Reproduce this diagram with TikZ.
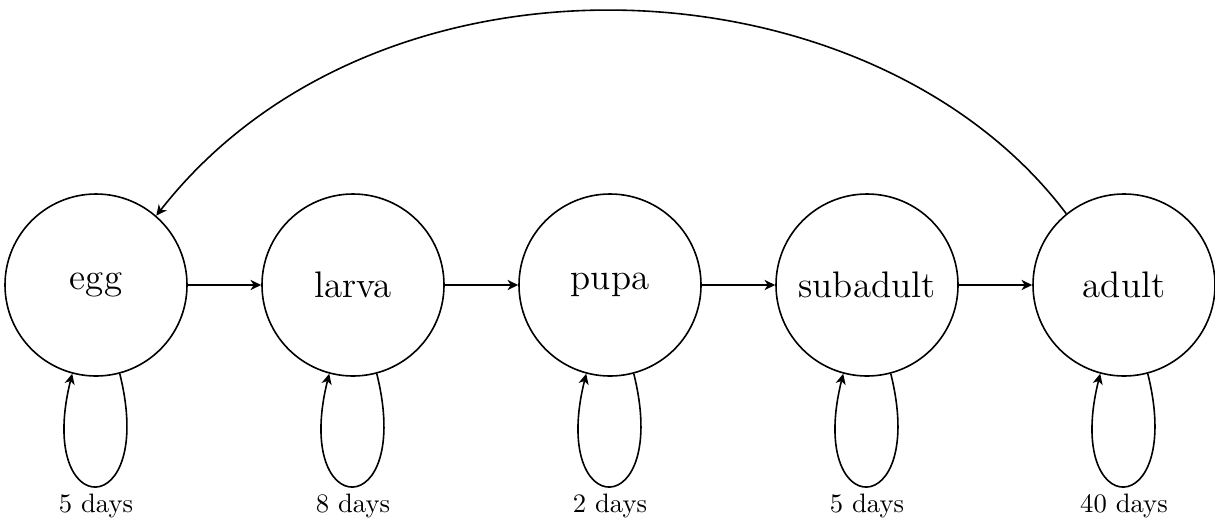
\documentclass[tikz,border=0pt]{standalone}
\usetikzlibrary{arrows.meta}
\begin{document}
\begin{tikzpicture}[x=0.375pt,y=-0.375pt,
  stage/.style={circle,draw,line width=0.6pt,minimum size=68.25pt,inner sep=0pt,
    font=\fontsize{13.86}{16}\selectfont},
  flow/.style={line width=0.6pt,-{Stealth[length=4pt,width=3.8pt,inset=1.2pt]}},
  dur/.style={font=\fontsize{10}{12}\selectfont,anchor=base,inner sep=0pt}]
\useasboundingbox (0,0) rectangle (1215,525);

% life stages
\node[stage] (egg)      at (96,285)   {egg};
\node[stage] (larva)    at (353,285)  {larva};
\node[stage] (pupa)     at (610,285)  {pupa};
\node[stage] (subadult) at (867,285)  {subadult};
\node[stage] (adult)    at (1124,285) {adult};

% forward transitions
\draw[flow] (egg) -- (larva);
\draw[flow] (larva) -- (pupa);
\draw[flow] (pupa) -- (subadult);
\draw[flow] (subadult) -- (adult);

% adults lay eggs
\draw[flow] (adult.129) .. controls +(127:121pt) and +(52:136pt) .. (egg.49);

% time spent in each stage
\foreach \s/\d in {egg/5 days,larva/8 days,pupa/2 days,subadult/5 days,adult/40 days}{
  \draw[flow] (\s.-75) .. controls +(-76:58pt) and +(-104:58pt) .. (\s.-105);
  \path (\s.center) ++(0,227) node[dur] (\s-time) {\d};
}
\end{tikzpicture}
\end{document}
